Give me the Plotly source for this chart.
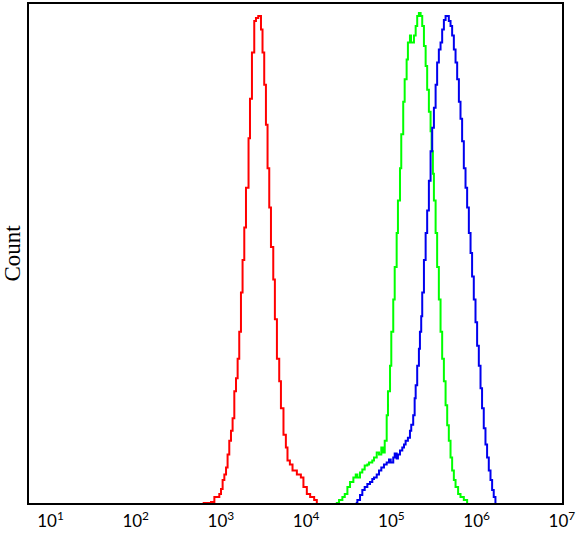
import plotly.graph_objects as go

# log10(intensity) and relative count
red_log = [2.786, 2.826, 2.884, 2.923, 2.981, 3.001, 3.020, 3.040, 3.060, 3.078,
           3.098, 3.118, 3.137, 3.157, 3.177, 3.196, 3.215, 3.235, 3.254, 3.274,
           3.294, 3.324, 3.341, 3.364, 3.391, 3.411, 3.438, 3.470, 3.488, 3.508,
           3.528, 3.547, 3.567, 3.587, 3.614, 3.633, 3.657, 3.684, 3.704, 3.734,
           3.762, 3.781, 3.809, 3.840, 3.891, 3.938, 3.968, 4.008, 4.047, 4.094, 4.125]
red_cnt = [0, 0, 0.2, 1.2, 1.8, 2.8, 4.6, 5.7, 7.1, 9.7,
           12.5, 14.5, 17.0, 22.4, 25.0, 28.9, 34.3, 42.2, 48.7, 55.2,
           63.2, 73.1, 81.0, 90.3, 96.6, 97.2, 97.6, 94.9, 90.3, 83.8,
           75.8, 67.1, 59.2, 51.3, 44.8, 36.8, 28.9, 24.4, 19.0, 13.7,
           11.1, 8.5, 7.7, 6.5, 5.7, 5.1, 3.2, 1.8, 1.2, 0.6, 0]

green_log = [4.348, 4.386, 4.425, 4.453, 4.484, 4.515, 4.554, 4.582, 4.601, 4.632,
             4.659, 4.687, 4.718, 4.738, 4.776, 4.796, 4.828, 4.855, 4.882, 4.905,
             4.922, 4.945, 4.960, 4.984, 4.999, 5.022, 5.039, 5.062, 5.077, 5.101,
             5.116, 5.139, 5.156, 5.179, 5.194, 5.218, 5.230, 5.265, 5.285, 5.303,
             5.323, 5.343, 5.362, 5.382, 5.402, 5.420, 5.440, 5.460, 5.472, 5.487,
             5.499, 5.519, 5.537, 5.557, 5.577, 5.596, 5.616, 5.636, 5.655, 5.674,
             5.694, 5.713, 5.733, 5.753, 5.783, 5.811, 5.850, 5.889]
green_cnt = [0, 0.6, 1.2, 1.8, 3.2, 4.2, 5.1, 5.7, 5.1, 6.1,
             6.7, 7.5, 7.7, 8.1, 8.5, 9.1, 10.1, 9.7, 11.1, 10.1,
             12.5, 17.6, 22.4, 27.5, 34.3, 40.8, 47.3, 54.1, 60.6, 67.1,
             73.9, 80.4, 84.9, 88.9, 92.3, 93.7, 92.3, 93.7, 95.6, 97.6,
             98.2, 97.6, 95.6, 91.6, 87.6, 82.8, 78.4, 74.5, 70.5, 66.0,
             60.6, 54.1, 47.3, 40.8, 34.3, 28.9, 24.4, 19.6, 15.6, 12.5,
             9.1, 6.5, 4.6, 3.2, 1.8, 1.2, 0.6, 0]

blue_log = [4.582, 4.601, 4.632, 4.659, 4.687, 4.718, 4.749, 4.776, 4.796, 4.828,
            4.855, 4.882, 4.913, 4.945, 4.972, 4.992, 5.022, 5.039, 5.062, 5.077,
            5.101, 5.128, 5.148, 5.167, 5.194, 5.218, 5.233, 5.256, 5.273, 5.285,
            5.303, 5.323, 5.335, 5.350, 5.362, 5.382, 5.402, 5.420, 5.440, 5.460,
            5.479, 5.499, 5.519, 5.537, 5.557, 5.577, 5.596, 5.616, 5.636, 5.655,
            5.674, 5.694, 5.713, 5.733, 5.753, 5.772, 5.792, 5.811, 5.830, 5.850,
            5.870, 5.889, 5.909, 5.929, 5.947, 5.967, 5.987, 6.006, 6.026, 6.046,
            6.064, 6.084, 6.104, 6.123, 6.143, 6.163, 6.182, 6.201, 6.221]
blue_cnt = [0, 0.6, 1.6, 2.6, 3.2, 3.8, 4.2, 4.8, 5.1, 5.7,
            6.5, 7.1, 7.7, 8.1, 8.7, 8.1, 9.1, 9.9, 8.9, 9.7,
            10.5, 11.1, 11.7, 12.5, 13.1, 14.5, 15.7, 17.6, 21.0, 23.6,
            27.5, 30.9, 34.3, 37.4, 42.2, 48.7, 54.1, 58.6, 64.6, 70.5,
            75.2, 79.2, 83.8, 88.3, 90.9, 92.3, 94.9, 96.8, 97.6, 97.6,
            96.6, 95.6, 93.7, 90.9, 88.3, 84.9, 80.4, 77.0, 72.5, 67.1,
            63.2, 59.2, 54.1, 50.1, 45.4, 40.8, 36.2, 31.5, 27.5, 23.0,
            19.0, 15.0, 11.7, 9.1, 6.5, 4.6, 2.6, 1.2, 0]

tick_vals = [1e1, 1e2, 1e3, 1e4, 1e5, 1e6, 1e7]
tick_text = ["10<sup>1</sup>", "10<sup>2</sup>", "10<sup>3</sup>", "10<sup>4</sup>",
             "10<sup>5</sup>", "10<sup>6</sup>", "10<sup>7</sup>"]

series = [
    ("red", red_log, red_cnt, "#ff0000"),
    ("green", green_log, green_cnt, "#00ff00"),
    ("blue", blue_log, blue_cnt, "#0000ee"),
]

fig = go.Figure()
for name, lg, cnt, col in series:
    fig.add_trace(go.Scatter(
        x=[10 ** v for v in lg], y=cnt, mode="lines", name=name,
        line=dict(color=col, width=2, shape="hv"),
        showlegend=False,
    ))

fig.update_layout(
    width=578, height=533,
    margin=dict(l=29, r=16, t=2, b=28),
    paper_bgcolor="white", plot_bgcolor="white",
    xaxis=dict(
        type="log", range=[0.748, 7.002],
        tickvals=tick_vals, ticktext=tick_text,
        showgrid=False, zeroline=False,
        showline=True, mirror=True, linecolor="black", linewidth=1.5,
        ticks="", ticklabelstandoff=2,
        tickfont=dict(family="Lato", size=17, color="black"),
    ),
    yaxis=dict(
        range=[0, 100], showticklabels=False, ticks="",
        showgrid=False, zeroline=False,
        showline=True, mirror=True, linecolor="black", linewidth=1.5,
        title=dict(text="Count", standoff=5,
                   font=dict(family="Liberation Serif", size=23, color="black")),
    ),
)

fig.write_html("out.html", config={"displayModeBar": False},
               post_script="document.body.style.margin='0';document.body.style.padding='0';")
